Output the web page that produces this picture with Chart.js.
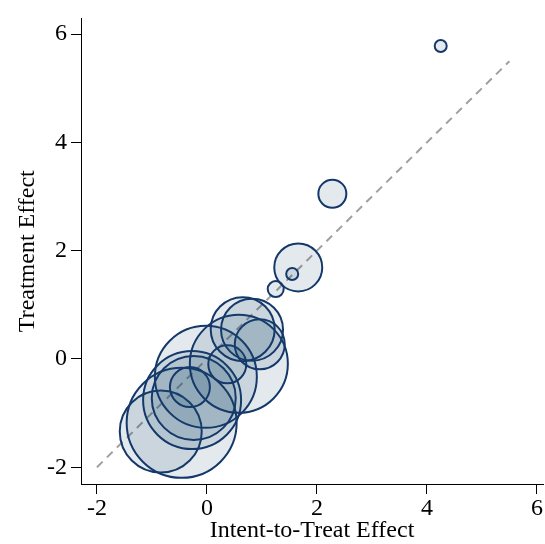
<!DOCTYPE html>
<html>
<head>
<meta charset="utf-8">
<script src="https://cdn.jsdelivr.net/npm/chart.js@4"></script>
<style>
  html, body { margin: 0; padding: 0; background: #fff; }
  #wrap { width: 545px; height: 544px; }
</style>
</head>
<body>
<div id="wrap"><canvas id="chart" width="545" height="544"></canvas></div>
<script>
// intent-to-treat effect (x), treatment effect (y), bubble radius (px)
const ittEffect = [-0.84, -0.46, -0.27, -0.24, -0.31, -0.02, 0.58, 0.37, 0.96, 0.82, 0.65, 1.25, 1.66, 1.55, 2.28, 4.25];
const treatEffect = [-1.34, -1.18, -0.76, -0.72, -0.52, -0.33, -0.09, -0.10, 0.27, 0.54, 0.55, 1.29, 1.69, 1.57, 3.05, 5.78];
const bubbleSize = [41, 55, 49, 42, 20, 51, 49, 19, 25, 31, 32, 8, 24, 6, 14, 6];

const xTicks = [-2, 0, 2, 4, 6];
const yTicks = [-2, 0, 2, 4, 6];
const diagonal = [-2, 5.5];

const points = ittEffect.map((x, i) => ({ x: x, y: treatEffect[i], r: bubbleSize[i] }));
const font = { family: "'Liberation Serif', 'DejaVu Serif', serif", size: 24 };

new Chart(document.getElementById('chart'), {
    type: 'bubble',
    data: {
        datasets: [
            {
                type: 'line',
                data: diagonal.map(v => ({ x: v, y: v })),
                borderColor: '#a0a0a0',
                borderWidth: 2,
                borderDash: [8, 6],
                pointRadius: 0,
                fill: false,
                order: 2,
            },
            {
                data: points,
                backgroundColor: 'rgba(26, 71, 111, 0.12)',
                borderColor: '#15386a',
                borderWidth: 2,
                order: 1,
            }
        ]
    },
    options: {
        responsive: false,
        animation: false,
        layout: { autoPadding: false, padding: { left: 0, right: 2, top: 11, bottom: 0 } },
        plugins: { legend: { display: false }, tooltip: { enabled: false } },
        scales: {
            x: {
                type: 'linear',
                min: -2.29, max: 6.11,
                afterBuildTicks: s => { s.ticks = xTicks.map(v => ({ value: v })); },
                afterFit: s => { s.height = 60; },
                grid: { drawOnChartArea: false, tickLength: 10, color: '#000', tickColor: '#000' },
                border: { display: true, color: '#000', width: 1 },
                ticks: { color: '#000', font: font, padding: 0, maxRotation: 0 },
                title: { display: true, text: 'Intent-to-Treat Effect', color: '#000', font: font, padding: { top: 0, bottom: -1 } }
            },
            y: {
                type: 'linear',
                min: -2.31, max: 6.29,
                afterBuildTicks: s => { s.ticks = yTicks.map(v => ({ value: v })); },
                afterFit: s => { s.width = 81; },
                grid: { drawOnChartArea: false, tickLength: 10, color: '#000', tickColor: '#000' },
                border: { display: true, color: '#000', width: 1 },
                ticks: { color: '#000', font: font, padding: 4 },
                title: { display: true, text: 'Treatment Effect', color: '#000', font: font, padding: { top: 13, bottom: 0 } }
            }
        }
    }
});
</script>
</body>
</html>
